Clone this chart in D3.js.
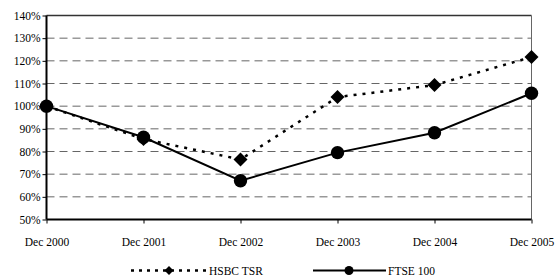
<!DOCTYPE html>
<html><head><meta charset="utf-8">
<script src="https://cdn.jsdelivr.net/npm/d3@7"></script>
<style>body{margin:0;background:#fff}svg{display:block}
svg text{font-family:"Liberation Serif","Times New Roman",Tinos,serif !important;font-size:11.5px;fill:#000;font-weight:normal}</style>
</head><body>
<svg id="chart" width="556" height="280"></svg>
<script>
const categories = ["Dec 2000","Dec 2001","Dec 2002","Dec 2003","Dec 2004","Dec 2005"];
const hsbcTSR = [100, 85.5, 76.5, 104, 109.3, 121.7];
const ftse100 = [100, 86.3, 67.1, 79.5, 88.3, 105.7];
const yTicks = [50,60,70,80,90,100,110,120,130,140];
const seriesNames = ["HSBC TSR","FTSE 100"];

const svg = d3.select("#chart");
const x = d3.scalePoint().domain(categories).range([46.5, 531.5]);
const y = d3.scaleLinear().domain([50,140]).range([219.5, 15.5]);

// gridlines
svg.append("g").selectAll("line").data(yTicks.filter(t=>t>50 && t<140)).join("line")
  .attr("x1", 46.5).attr("x2", 531.5)
  .attr("y1", d=>y(d)).attr("y2", d=>y(d))
  .attr("stroke", "#666").attr("stroke-width", 1).attr("stroke-dasharray", "8,5");
// top and right border
svg.append("line").attr("x1",46.5).attr("x2",531.5).attr("y1",y(140)).attr("y2",y(140))
  .attr("stroke","#333").attr("stroke-width",1.5);
svg.append("line").attr("x1",531.5).attr("x2",531.5).attr("y1",y(140)).attr("y2",y(50))
  .attr("stroke","#666").attr("stroke-width",1);

// axes
const yAxis = svg.append("g").attr("transform","translate(46.5,0)")
  .call(d3.axisLeft(y).tickValues(yTicks).tickFormat(d=>d+"%").tickSize(4).tickPadding(2));
const xAxis = svg.append("g").attr("transform",`translate(0,${y(50)})`)
  .call(d3.axisBottom(x).tickSize(4).tickPadding(14));
[yAxis,xAxis].forEach(a=>{
  a.attr("font-family", null).attr("font-size", null);
  a.select(".domain").attr("stroke","#000").attr("stroke-width",2);
  a.selectAll(".tick line").attr("stroke","#000").attr("stroke-width",1);
});
yAxis.select(".domain").attr("d", `M0,${y(140)}V${y(50)}`);
xAxis.select(".domain").attr("d", `M46.5,0H531.5`);

const line = d3.line().x((d,i)=>x(categories[i])).y(d=>y(d));
// HSBC dotted
svg.append("path").datum(hsbcTSR).attr("d", line).attr("fill","none")
  .attr("stroke","#000").attr("stroke-width",2.5).attr("stroke-dasharray","3,6");
// FTSE solid
svg.append("path").datum(ftse100).attr("d", line).attr("fill","none")
  .attr("stroke","#000").attr("stroke-width",2);

const diamond = d3.symbol().type(d3.symbolSquare).size(98);
svg.append("g").selectAll("path").data(hsbcTSR).join("path")
  .attr("d", diamond)
  .attr("transform",(d,i)=>`translate(${x(categories[i])},${y(d)}) rotate(45)`)
  .attr("fill","#000");
svg.append("g").selectAll("circle").data(ftse100).join("circle")
  .attr("cx",(d,i)=>x(categories[i])).attr("cy",d=>y(d)).attr("r",6.7).attr("fill","#000");

// legend
const ly = 270.5;
const lg = svg.append("g");
lg.append("line").attr("x1",131).attr("x2",207).attr("y1",ly).attr("y2",ly)
  .attr("stroke","#000").attr("stroke-width",2.5).attr("stroke-dasharray","3,5");
lg.append("path").attr("d", d3.symbol().type(d3.symbolSquare).size(40))
  .attr("transform",`translate(169,${ly}) rotate(45)`).attr("fill","#000");
lg.append("text").attr("x",209).attr("y",ly+4).text(seriesNames[0]);
lg.append("line").attr("x1",313).attr("x2",386).attr("y1",ly).attr("y2",ly)
  .attr("stroke","#000").attr("stroke-width",2);
lg.append("circle").attr("cx",349).attr("cy",ly).attr("r",4.5).attr("fill","#000");
lg.append("text").attr("x",388).attr("y",ly+4).text(seriesNames[1]);
</script>
</body></html>
